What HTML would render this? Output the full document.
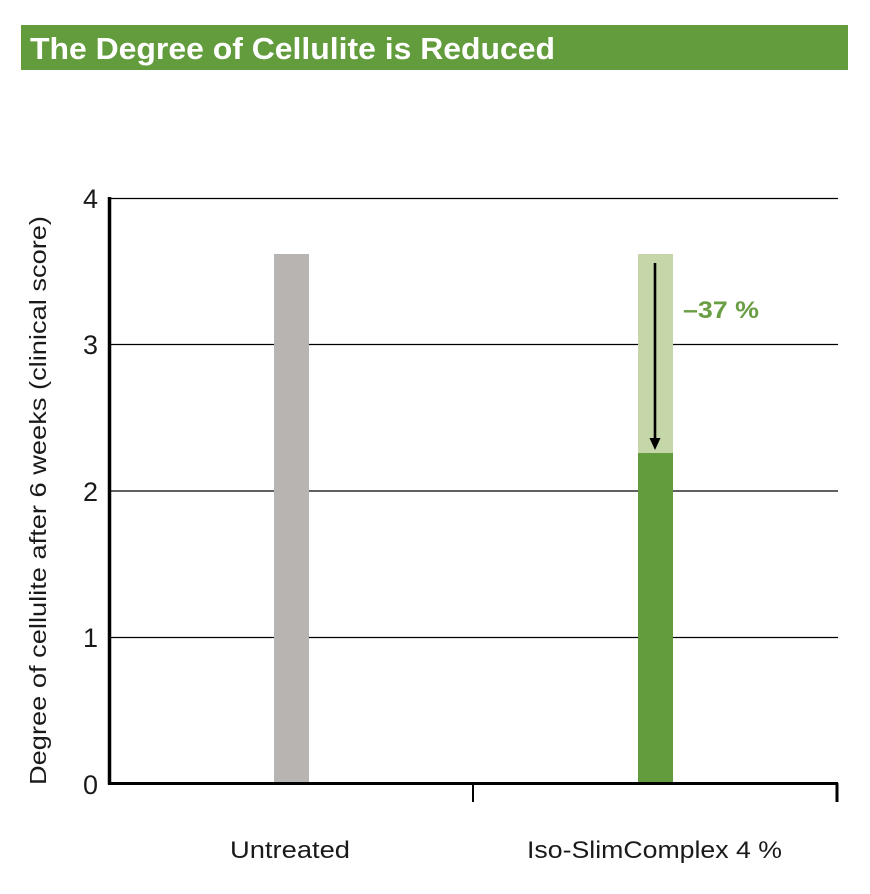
<!DOCTYPE html>
<html>
<head>
<meta charset="utf-8">
<style>
  html, body { margin: 0; padding: 0; background: #ffffff; }
  body { width: 870px; height: 894px; overflow: hidden; }
  svg { display: block; }
  text { font-family: "Liberation Sans", "DejaVu Sans", sans-serif; }
</style>
</head>
<body>
<svg width="870" height="894" viewBox="0 0 870 894" xmlns="http://www.w3.org/2000/svg">
  <rect x="0" y="0" width="870" height="894" fill="#ffffff"/>

  <!-- Title bar -->
  <rect x="21" y="25" width="827" height="45" fill="#629c3c"/>
  <text x="30" y="59" font-size="31" font-weight="bold" fill="#ffffff" textLength="525" lengthAdjust="spacingAndGlyphs">The Degree of Cellulite is Reduced</text>

  <!-- Gridlines -->
  <g stroke="#000000" stroke-width="1.2">
    <line x1="110" y1="198.5" x2="838" y2="198.5"/>
    <line x1="110" y1="344.5" x2="838" y2="344.5"/>
    <line x1="110" y1="491" x2="838" y2="491"/>
    <line x1="110" y1="637.5" x2="838" y2="637.5"/>
  </g>

  <!-- Bars -->
  <rect x="274" y="254" width="35" height="529" fill="#b8b4b1"/>
  <rect x="638" y="254" width="35" height="199" fill="#c5d7a9"/>
  <rect x="638" y="453" width="35" height="330" fill="#629c3c"/>

  <!-- Arrow -->
  <line x1="655" y1="263" x2="655" y2="441" stroke="#000000" stroke-width="2.6"/>
  <polygon points="649.5,438 660.5,438 655,450" fill="#000000"/>

  <!-- -37% label -->
  <text x="683" y="318" font-size="24" font-weight="bold" fill="#6a9e44" textLength="76" lengthAdjust="spacingAndGlyphs">–37 %</text>

  <!-- Axes -->
  <line x1="109.5" y1="197" x2="109.5" y2="784.5" stroke="#000000" stroke-width="3.5"/>
  <line x1="108" y1="783.5" x2="838" y2="783.5" stroke="#000000" stroke-width="3"/>
  <line x1="473" y1="783" x2="473" y2="802" stroke="#000000" stroke-width="2"/>
  <line x1="837" y1="783" x2="837" y2="802" stroke="#000000" stroke-width="3"/>

  <!-- Y tick labels -->
  <g font-size="27" fill="#1a1a1a" text-anchor="end">
    <text x="98" y="208">4</text>
    <text x="98" y="354">3</text>
    <text x="98" y="501">2</text>
    <text x="98" y="647">1</text>
    <text x="98" y="794">0</text>
  </g>

  <!-- Y axis title -->
  <text transform="translate(46,785) rotate(-90)" font-size="23" fill="#1a1a1a" textLength="569" lengthAdjust="spacingAndGlyphs">Degree of cellulite after 6 weeks (clinical score)</text>

  <!-- Category labels -->
  <text x="230" y="858" font-size="24" fill="#1a1a1a" textLength="120" lengthAdjust="spacingAndGlyphs">Untreated</text>
  <text x="527" y="858" font-size="24" fill="#1a1a1a" textLength="255" lengthAdjust="spacingAndGlyphs">Iso-SlimComplex 4 %</text>
</svg>
</body>
</html>
